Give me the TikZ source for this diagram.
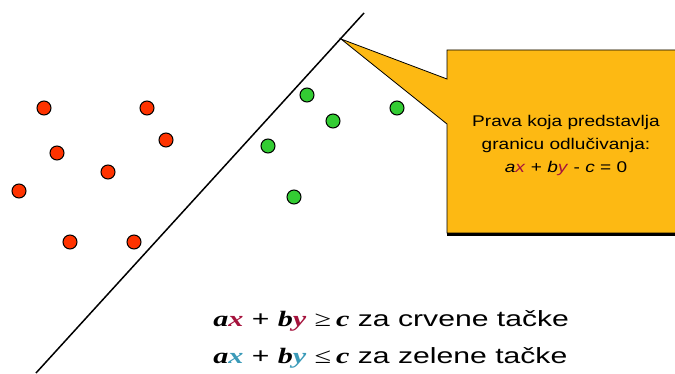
\documentclass[tikz,border=0pt]{standalone}
\usepackage{fontspec}
\setmainfont{Liberation Sans}
\newfontfamily\serifbi[BoldItalicFont={* Bold Italic}]{Liberation Serif}
\definecolor{reddot}{HTML}{FF3300}
\definecolor{greendot}{HTML}{33CC33}
\definecolor{callout}{HTML}{FDB913}
\definecolor{crim}{HTML}{A5123C}
\definecolor{teal2}{HTML}{3A9AB8}
\tikzset{
  rdot/.style={circle,draw=black,line width=1pt,fill=reddot,minimum size=14pt,inner sep=0pt},
  gdot/.style={circle,draw=black,line width=1pt,fill=greendot,minimum size=14pt,inner sep=0pt},
  ineq/.style={anchor=base west,inner sep=0pt,xscale=1.37,transform shape,font=\fontsize{22}{26}\selectfont},
  calltext/.style={align=center,inner sep=0pt,xscale=1.23,transform shape,font=\fontsize{15.5}{23}\selectfont}
}
\newcommand{\bi}[1]{{\serifbi\bfseries\itshape #1}}
\begin{document}
\begin{tikzpicture}[x=1pt,y=-1pt]
\useasboundingbox (0,0) rectangle (675,374);
% decision line
\coordinate (l1) at (36,373);
\coordinate (l2) at (364,13);
\draw[line width=1.5pt] (l1) -- (l2);
% callout
\coordinate (tip) at (341,39);
\fill[black] (447,232) rectangle (680,236);
\draw[fill=callout,line width=0.8pt] (447,50) -- (447,79) -- (tip) -- (447,124) -- (447,233) -- (680,233) -- (680,50) -- cycle;
\node[calltext] (txt) at (566,145)
 {Prava koja predstavlja\\granicu odlučivanja:\\\textit{a}\textcolor{crim}{\textit{x}} + \textit{b}\textcolor{crim}{\textit{y}} - \textit{c} = 0};
% red dots
\node[rdot] (r1) at (44,108) {};
\node[rdot] (r2) at (147,108) {};
\node[rdot] (r3) at (166,140) {};
\node[rdot] (r4) at (57,153) {};
\node[rdot] (r5) at (108,172) {};
\node[rdot] (r6) at (19,191) {};
\node[rdot] (r7) at (70,242) {};
\node[rdot] (r8) at (134,242) {};
% green dots
\node[gdot] (g1) at (307,95) {};
\node[gdot] (g2) at (333,121) {};
\node[gdot] (g3) at (268,146) {};
\node[gdot] (g4) at (294,197) {};
\node[gdot] (g5) at (397,108) {};
% inequalities
\node[ineq] (i1) at (213,326) {\bi{a}\textcolor{crim}{\bi{x}} + \bi{b}\textcolor{crim}{\bi{y}} {\serifbi ≥}\,\bi{c} za crvene tačke};
\node[ineq] (i2) at (213,363) {\bi{a}\textcolor{teal2}{\bi{x}} + \bi{b}\textcolor{teal2}{\bi{y}} {\serifbi ≤}\,\bi{c} za zelene tačke};
\end{tikzpicture}
\end{document}
